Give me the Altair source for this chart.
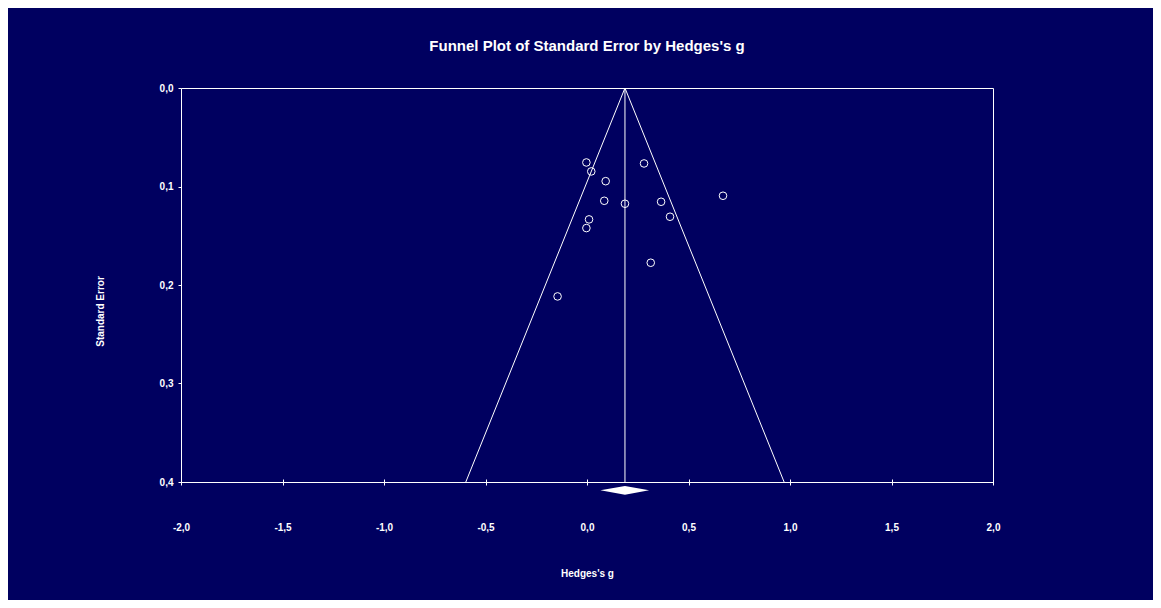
import altair as alt
import pandas as pd

# Study effect sizes (Hedges's g) and standard errors
g_values = [-0.003, 0.021, 0.092, 0.085, 0.187, 0.010, -0.003, -0.145, 0.281, 0.365, 0.409, 0.314, 0.670]
se_values = [0.0756, 0.0847, 0.0946, 0.1145, 0.1175, 0.1334, 0.1422, 0.2116, 0.0766, 0.1155, 0.1307, 0.1774, 0.1094]

# Summary estimate and its confidence interval
summary_g = 0.187
ci_low = 0.066
ci_high = 0.306

# Funnel outline (pseudo 95% limits)
funnel_x = [-0.597, 0.187, 0.971]
funnel_y = [0.4, 0.0, 0.4]

# Diamond vertical position (just below the axis)
diamond_y_mid = [0.4085, 0.4041, 0.4085]
diamond_y_low = [0.4085, 0.4129, 0.4085]

x_ticks = [-2.0, -1.5, -1.0, -0.5, 0.0, 0.5, 1.0, 1.5, 2.0]
y_ticks = [0.0, 0.1, 0.2, 0.3, 0.4]

FONT = "Liberation Sans"
label_expr = "replace(replace(format(datum.value, '.1f'), '.', ','), '\u2212', '-')"

points = pd.DataFrame({"g": g_values, "se": se_values})
funnel = pd.DataFrame({"g": funnel_x, "se": funnel_y, "o": [0, 1, 2]})
center = pd.DataFrame({"g": [summary_g, summary_g], "se": [0.0, 0.4]})
diamond = pd.DataFrame({"g": [ci_low, summary_g, ci_high], "y1": diamond_y_mid, "y2": diamond_y_low})

xscale = alt.Scale(domain=[-2, 2], nice=False, zero=False)
yscale = alt.Scale(domain=[0, 0.4], nice=False, zero=False, reverse=True)

xaxis = alt.Axis(
    values=x_ticks, labelExpr=label_expr, title="Hedges's g", domain=False,
    grid=False, offset=-3, tickSize=6, tickColor="white", labelPadding=37,
    labelFlush=False, labelOverlap=False,
    labelFont=FONT, labelFontSize=10, labelFontWeight="bold", labelColor="white",
    titleFont=FONT, titleFontSize=10, titleFontWeight="bold", titleColor="white",
    titleY=94, titleBaseline="middle",
)
yaxis = alt.Axis(
    values=y_ticks, labelExpr=label_expr, title="Standard Error", domain=False,
    grid=False, tickSize=3, tickColor="white", labelPadding=5,
    labelFlush=False, labelOverlap=False,
    labelFont=FONT, labelFontSize=10, labelFontWeight="bold", labelColor="white",
    titleFont=FONT, titleFontSize=10, titleFontWeight="bold", titleColor="white",
    titleX=-81, titleY=223, titleBaseline="middle", titleAlign="center",
)

funnel_layer = alt.Chart(funnel).mark_line(color="white", strokeWidth=1).encode(
    x=alt.X("g:Q", scale=xscale, axis=xaxis),
    y=alt.Y("se:Q", scale=yscale, axis=yaxis),
    order="o:Q",
)
center_layer = alt.Chart(center).mark_line(color="white", strokeWidth=1).encode(
    x="g:Q", y="se:Q"
)
diamond_layer = alt.Chart(diamond).mark_area(color="white", opacity=1).encode(
    x="g:Q", y="y1:Q", y2="y2:Q"
)
point_layer = alt.Chart(points).mark_point(
    shape="circle", filled=False, color="white", size=58, strokeWidth=1, opacity=1
).encode(x="g:Q", y="se:Q")

chart = alt.layer(funnel_layer, center_layer, diamond_layer, point_layer).properties(
    width=812,
    height=394,
    autosize=alt.AutoSizeParams(type="none"),
    padding={"left": 173, "top": 80, "right": 160, "bottom": 118},
    background="#000060",
    title=alt.TitleParams(
        "Funnel Plot of Standard Error by Hedges's g",
        font=FONT, fontSize=15, fontWeight="bold", color="white",
        anchor="middle", offset=29,
    ),
).configure_view(stroke="white", strokeWidth=1)

chart.save("out.html", embed_options={"renderer": "svg", "actions": False})
